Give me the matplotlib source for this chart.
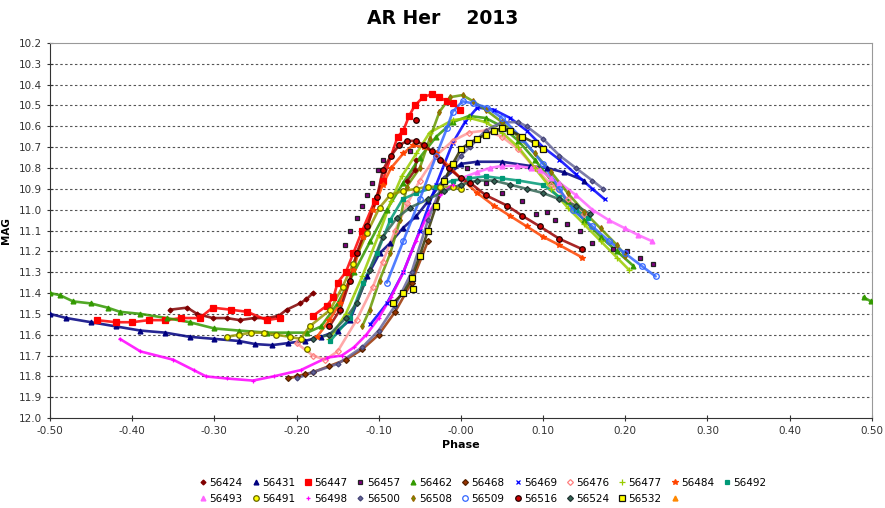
import numpy as np
import matplotlib.pyplot as plt
from matplotlib.lines import Line2D

nan = np.nan

# phase / magnitude, one pair of lists per night
ph_56424 = [-0.354, -0.333, -0.321, -0.302, -0.285, -0.269, -0.252, -0.236, -0.222, -0.212, -0.196, -0.188, -0.18, nan, -0.065, -0.056, -0.054]
mag_56424 = [11.48, 11.47, 11.50, 11.52, 11.52, 11.53, 11.52, 11.52, 11.51, 11.48, 11.45, 11.43, 11.40, nan, 10.86, 10.81, 10.76]

ph_56431 = [-0.50, -0.48, -0.45, -0.42, -0.39, -0.36, -0.33, -0.30, -0.27, -0.25, -0.23, -0.21, -0.19, -0.17, -0.15, -0.135, -0.114, -0.099,
            -0.086, -0.071, -0.054, -0.04, -0.02, 0.0, 0.02, 0.05, 0.084, 0.105, 0.125, 0.15]
mag_56431 = [11.50, 11.52, 11.54, 11.56, 11.58, 11.59, 11.61, 11.62, 11.63, 11.645, 11.65, 11.64, 11.63, 11.61, 11.58, 11.53, 11.32, 11.21,
             11.16, 11.09, 11.03, 10.96, 10.85, 10.78, 10.77, 10.77, 10.79, 10.80, 10.82, 10.86]

ph_56447 = [-0.443, -0.42, -0.40, -0.38, -0.36, -0.34, -0.318, -0.302, -0.28, -0.26, -0.236, -0.22, nan, -0.18, -0.163, -0.155, -0.15,
            -0.14, -0.131, -0.12, -0.105, -0.095, -0.077, -0.07, -0.063, -0.056, -0.046, -0.035, -0.026, -0.017, -0.01, -0.001]
mag_56447 = [11.53, 11.54, 11.54, 11.53, 11.53, 11.52, 11.52, 11.47, 11.48, 11.49, 11.53, 11.52, nan, 11.51, 11.46, 11.42, 11.35,
             11.30, 11.21, 11.10, 10.96, 10.86, 10.65, 10.62, 10.55, 10.50, 10.46, 10.445, 10.46, 10.48, 10.49, 10.52]

ph_56457 = [-0.141, -0.135, -0.127, -0.12, -0.114, -0.108, -0.101, -0.095, -0.062, nan, 0.007, 0.03, 0.05, 0.075, 0.092, 0.105, 0.114,
            0.129, 0.145, 0.159, nan, 0.185, 0.202, 0.218, 0.234]
mag_56457 = [11.17, 11.10, 11.04, 10.98, 10.93, 10.87, 10.81, 10.76, 10.72, nan, 10.80, 10.87, 10.92, 10.96, 11.02, 11.01, 11.05,
             11.07, 11.10, 11.16, nan, 11.19, 11.20, 11.23, 11.26]

ph_56462 = [-0.50, -0.488, -0.472, -0.45, -0.43, -0.415, -0.39, -0.358, -0.33, -0.30, -0.27, -0.236, -0.21, -0.187, -0.17, -0.15, -0.13,
            -0.11, -0.09, -0.07, -0.05, -0.03, -0.01, 0.01, 0.03, 0.05, 0.07, 0.09, 0.11, 0.13, 0.15, 0.17, 0.19, 0.21,
            nan, 0.49, 0.499]
mag_56462 = [11.40, 11.41, 11.44, 11.45, 11.47, 11.49, 11.50, 11.52, 11.54, 11.57, 11.58, 11.59, 11.59, 11.59, 11.56, 11.45, 11.30,
             11.15, 11.00, 10.87, 10.75, 10.65, 10.58, 10.55, 10.56, 10.60, 10.67, 10.76, 10.86, 10.96, 11.05, 11.13, 11.20, 11.27,
             nan, 11.42, 11.44]

ph_56468 = [-0.21, -0.20, -0.19, -0.18, -0.16, -0.14, -0.12, -0.10, -0.08, -0.06, -0.04]
mag_56468 = [11.81, 11.80, 11.79, 11.78, 11.75, 11.72, 11.67, 11.60, 11.49, 11.35, 11.15]

ph_56469 = [-0.11, -0.09, -0.07, -0.05, -0.03, -0.01, 0.005, 0.02, 0.04, 0.06, 0.08, 0.10, 0.12, 0.14, 0.16, 0.175]
mag_56469 = [11.55, 11.45, 11.30, 11.10, 10.88, 10.68, 10.58, 10.51, 10.52, 10.56, 10.62, 10.70, 10.76, 10.83, 10.90, 10.95]

ph_56476 = [-0.20, -0.18, -0.165, -0.15, -0.127, -0.107, -0.095, -0.08, -0.065, -0.05, -0.03, -0.01, 0.01, 0.03, 0.05, 0.07, 0.09,
            0.11, 0.13, 0.15]
mag_56476 = [11.64, 11.70, 11.72, 11.68, 11.53, 11.37, 11.25, 11.10, 10.97, 10.86, 10.74, 10.67, 10.63, 10.62, 10.65, 10.71, 10.80,
             10.88, 10.95, 11.02]

ph_56477 = [-0.16, -0.14, -0.12, -0.10, -0.085, -0.072, -0.054, -0.038, -0.01, 0.011, 0.03, 0.05, 0.07, 0.09, 0.11, 0.13, 0.15,
            0.17, 0.19, 0.205]
mag_56477 = [11.62, 11.50, 11.32, 11.12, 10.96, 10.84, 10.73, 10.63, 10.57, 10.56, 10.58, 10.63, 10.70, 10.80, 10.90, 10.99, 11.07,
             11.15, 11.23, 11.29]

ph_56484 = [-0.175, -0.16, -0.147, -0.131, -0.119, -0.107, -0.095, -0.085, -0.07, -0.058, -0.045, -0.03, -0.015, 0.0, 0.02, 0.04,
            0.06, 0.08, 0.10, 0.12, 0.148]
mag_56484 = [11.61, 11.53, 11.45, 11.29, 11.13, 11.00, 10.88, 10.80, 10.73, 10.69, 10.70, 10.73, 10.79, 10.85, 10.92, 10.98,
             11.03, 11.08, 11.13, 11.17, 11.23]

ph_56492 = [-0.159, -0.135, -0.119, -0.102, -0.086, -0.071, -0.054, -0.03, -0.01, 0.01, 0.03, 0.05, 0.07, 0.10, 0.12, 0.14, 0.155]
mag_56492 = [11.63, 11.52, 11.35, 11.21, 11.05, 10.95, 10.92, 10.89, 10.86, 10.85, 10.84, 10.85, 10.86, 10.88, 10.94, 11.00, 11.04]

ph_56493 = [0.0, 0.02, 0.035, 0.05, 0.068, 0.085, 0.096, 0.11, 0.12, 0.14, 0.16, 0.18, 0.20, 0.215, 0.232]
mag_56493 = [10.85, 10.82, 10.80, 10.79, 10.79, 10.80, 10.81, 10.85, 10.87, 10.93, 11.00, 11.05, 11.09, 11.12, 11.15]

ph_56491 = [-0.285, -0.27, -0.255, -0.24, -0.225, -0.208, -0.195, -0.184, -0.159, -0.144, -0.131, -0.114, -0.099, -0.086, -0.071,
            -0.054, -0.04, -0.025, -0.01, 0.0, nan, -0.187]
mag_56491 = [11.61, 11.60, 11.59, 11.59, 11.60, 11.61, 11.62, 11.56, 11.48, 11.37, 11.26, 11.11, 10.99, 10.93, 10.91,
             10.90, 10.89, 10.89, 10.89, 10.90, nan, 11.67]

ph_56498 = [-0.415, -0.39, -0.35, -0.325, -0.31, -0.285, -0.253, -0.228, -0.195, -0.163, -0.145, -0.13, -0.115, -0.10, -0.085,
            -0.07, -0.055, -0.04, -0.025, -0.01]
mag_56498 = [11.62, 11.68, 11.72, 11.77, 11.80, 11.81, 11.82, 11.80, 11.77, 11.71, 11.70, 11.66, 11.60, 11.52, 11.42,
             11.30, 11.15, 11.02, 10.93, 10.88]

ph_56500 = [-0.20, -0.18, -0.15, -0.12, -0.10, -0.08, -0.06, -0.04, -0.02, 0.0, 0.011, 0.03, 0.05, 0.07, 0.08, 0.10, 0.12, 0.14,
            0.16, 0.173]
mag_56500 = [11.81, 11.78, 11.74, 11.66, 11.58, 11.46, 11.30, 11.05, 10.85, 10.74, 10.70, 10.62, 10.58, 10.58, 10.60, 10.66,
             10.74, 10.80, 10.86, 10.90]

ph_56508 = [-0.12, -0.111, -0.099, -0.086, -0.074, -0.066, -0.05, -0.038, -0.026, -0.013, 0.002, 0.015, 0.03, 0.05, 0.07, 0.09,
            0.11, 0.13, 0.15, 0.17, 0.19, 0.20]
mag_56508 = [11.56, 11.48, 11.34, 11.21, 11.05, 10.89, 10.80, 10.66, 10.53, 10.46, 10.45, 10.48, 10.52, 10.58, 10.65, 10.73,
             10.82, 10.92, 11.01, 11.09, 11.17, 11.22]

ph_56509 = [-0.09, -0.07, -0.05, -0.03, -0.017, -0.01, 0.002, 0.015, 0.032, 0.05, 0.075, 0.10, 0.12, 0.136, 0.16, 0.18, 0.20,
            0.22, 0.237]
mag_56509 = [11.35, 11.15, 10.95, 10.74, 10.61, 10.53, 10.48, 10.49, 10.51, 10.56, 10.66, 10.78, 10.90, 11.00, 11.08, 11.15,
             11.21, 11.27, 11.32]

ph_56516 = [-0.16, -0.147, -0.135, -0.127, -0.114, -0.102, -0.095, -0.085, -0.075, -0.065, -0.055, -0.045, -0.035, -0.025, -0.015,
            0.0, 0.011, 0.03, 0.056, 0.075, 0.096, 0.12, 0.148, nan, -0.055]
mag_56516 = [11.56, 11.48, 11.34, 11.21, 11.08, 10.94, 10.81, 10.74, 10.69, 10.67, 10.67, 10.69, 10.72, 10.76, 10.80,
             10.85, 10.87, 10.93, 10.98, 11.03, 11.08, 11.14, 11.19, nan, 10.57]

ph_56524 = [-0.18, -0.16, -0.14, -0.127, -0.111, -0.095, -0.078, -0.062, -0.04, -0.02, 0.0, 0.02, 0.04, 0.06, 0.08, 0.10, 0.12,
            0.14, 0.157]
mag_56524 = [11.62, 11.60, 11.52, 11.45, 11.29, 11.13, 11.04, 10.99, 10.95, 10.91, 10.88, 10.86, 10.86, 10.88, 10.90, 10.92,
             10.95, 10.98, 11.02]

ph_56532 = [-0.083, -0.07, -0.06, -0.05, -0.04, -0.03, -0.02, -0.01, 0.0, 0.01, 0.02, 0.03, 0.04, 0.05, 0.06, 0.075, 0.09, 0.10,
            nan, -0.058]
mag_56532 = [11.45, 11.40, 11.33, 11.22, 11.10, 10.98, 10.86, 10.78, 10.71, 10.68, 10.66, 10.64, 10.62, 10.61, 10.62, 10.65,
             10.68, 10.71, nan, 11.38]

nights = ["56424", "56431", "56447", "56457", "56462", "56468", "56469", "56476", "56477", "56484", "56492",
          "56493", "56491", "56498", "56500", "56508", "56509", "56516", "56524", "56532"]

# colour, marker, size, face, edge
styles = {
    "56424": ("#800000", "D", 2.5, "#800000", "#800000"),
    "56431": ("#000080", "^", 3.5, "#000080", "#000080"),
    "56447": ("#ff0000", "s", 4.0, "#ff0000", "#ff0000"),
    "56457": ("#800080", "s", 3.5, "#800080", "#222222"),
    "56462": ("#339900", "^", 3.5, "#339900", "#339900"),
    "56468": ("#993300", "D", 3.0, "#993300", "#552200"),
    "56469": ("#0000ff", "x", 3.5, "#0000ff", "#0000ff"),
    "56476": ("#ff9999", "D", 3.0, "none", "#ff8080"),
    "56477": ("#99cc00", "+", 4.0, "#99cc00", "#99cc00"),
    "56484": ("#ff4400", "*", 4.0, "#ff4400", "#ff4400"),
    "56492": ("#009977", "s", 3.0, "#009977", "#009977"),
    "56493": ("#ff66ff", "^", 3.5, "#ff66ff", "#ff66ff"),
    "56491": ("#ffff00", "o", 4.0, "#ffff00", "#666600"),
    "56498": ("#ff00ff", "+", 3.5, "#ff00ff", "#ff00ff"),
    "56500": ("#666699", "D", 2.5, "#666699", "#444477"),
    "56508": ("#669900", "d", 3.0, "#669900", "#996600"),
    "56509": ("#3366ff", "o", 4.0, "none", "#3366ff"),
    "56516": ("#cc0000", "o", 4.0, "#cc0000", "#220000"),
    "56524": ("#336655", "D", 3.0, "#336655", "#223333"),
    "56532": ("#ffff00", "s", 5.0, "#ffff00", "#111111"),
}

# line colour under the markers (dark edge for the outlined series), None = sparse, no chain
chain = {"56491": "#999900", "56532": "#333300", "56516": "#990000", "56476": "#ff9999", "56509": "#3366ff",
         "56457": None}

data = {n: (globals()["ph_" + n], globals()["mag_" + n]) for n in nights}

fig = plt.figure(figsize=(8.85, 5.08), dpi=100)
ax = fig.add_axes([0.0565, 0.177, 0.9285, 0.7384])

for n in nights:
    col, mk, ms, fc, ec = styles[n]
    x, y = data[n]
    lc = chain.get(n, col)
    if lc is not None:
        ax.plot(x, y, color=lc, lw=1.9, alpha=0.85, zorder=2, solid_capstyle="round")
    ax.plot(x, y, ls="none", marker=mk, ms=ms, mfc=fc, mec=ec, mew=0.9, zorder=3)

ax.set_xlim(-0.5, 0.5)
ax.set_ylim(12.0, 10.2)
ax.set_xticks(np.arange(-0.5, 0.51, 0.1))
ax.set_xticklabels(["%.2f" % v for v in np.arange(-0.5, 0.51, 0.1)])
ax.set_yticks(np.arange(10.2, 12.01, 0.1))
ax.set_yticklabels(["%.1f" % v for v in np.arange(10.2, 12.01, 0.1)])
ax.tick_params(labelsize=7.5, length=4, width=0.8, direction="inout", colors="#333333")
for v in np.arange(10.3, 12.0, 0.1):
    ax.axhline(v, color="#555555", lw=0.8, ls=(0, (2.2, 2.2)), zorder=1)
ax.spines["left"].set_color("#333333")
ax.spines["bottom"].set_color("#333333")
ax.spines["top"].set_color("#999999")
ax.spines["right"].set_color("#999999")

ax.set_xlabel("Phase", fontsize=8, fontweight="bold", labelpad=3)
ax.set_ylabel("MAG", fontsize=7.5, fontweight="bold", labelpad=6)
fig.text(0.5, 0.963, "AR Her    2013", ha="center", va="center", fontsize=13.5, fontweight="bold")

# legend: two rows, filled row by row like the original
handles = []
for n in nights:
    col, mk, ms, fc, ec = styles[n]
    handles.append(Line2D([], [], ls="none", marker=mk, ms=ms, mfc=fc, mec=ec, mew=0.9, label=n))
handles.append(Line2D([], [], ls="none", marker="^", ms=3.5, mfc="#ff8800", mec="#ff8800", label=" "))
row1, row2 = handles[:11], handles[11:]
order = []
for i in range(10):
    order += [row1[i], row2[i]]
order.append(row1[10])
fig.legend(handles=order, loc="lower center", bbox_to_anchor=(0.545, -0.005), ncol=11, frameon=False,
           fontsize=7.5, handletextpad=0.1, columnspacing=0.75, handlelength=1.0, borderaxespad=0.25,
           labelspacing=0.55)

fig.savefig("out.png", dpi=100)
